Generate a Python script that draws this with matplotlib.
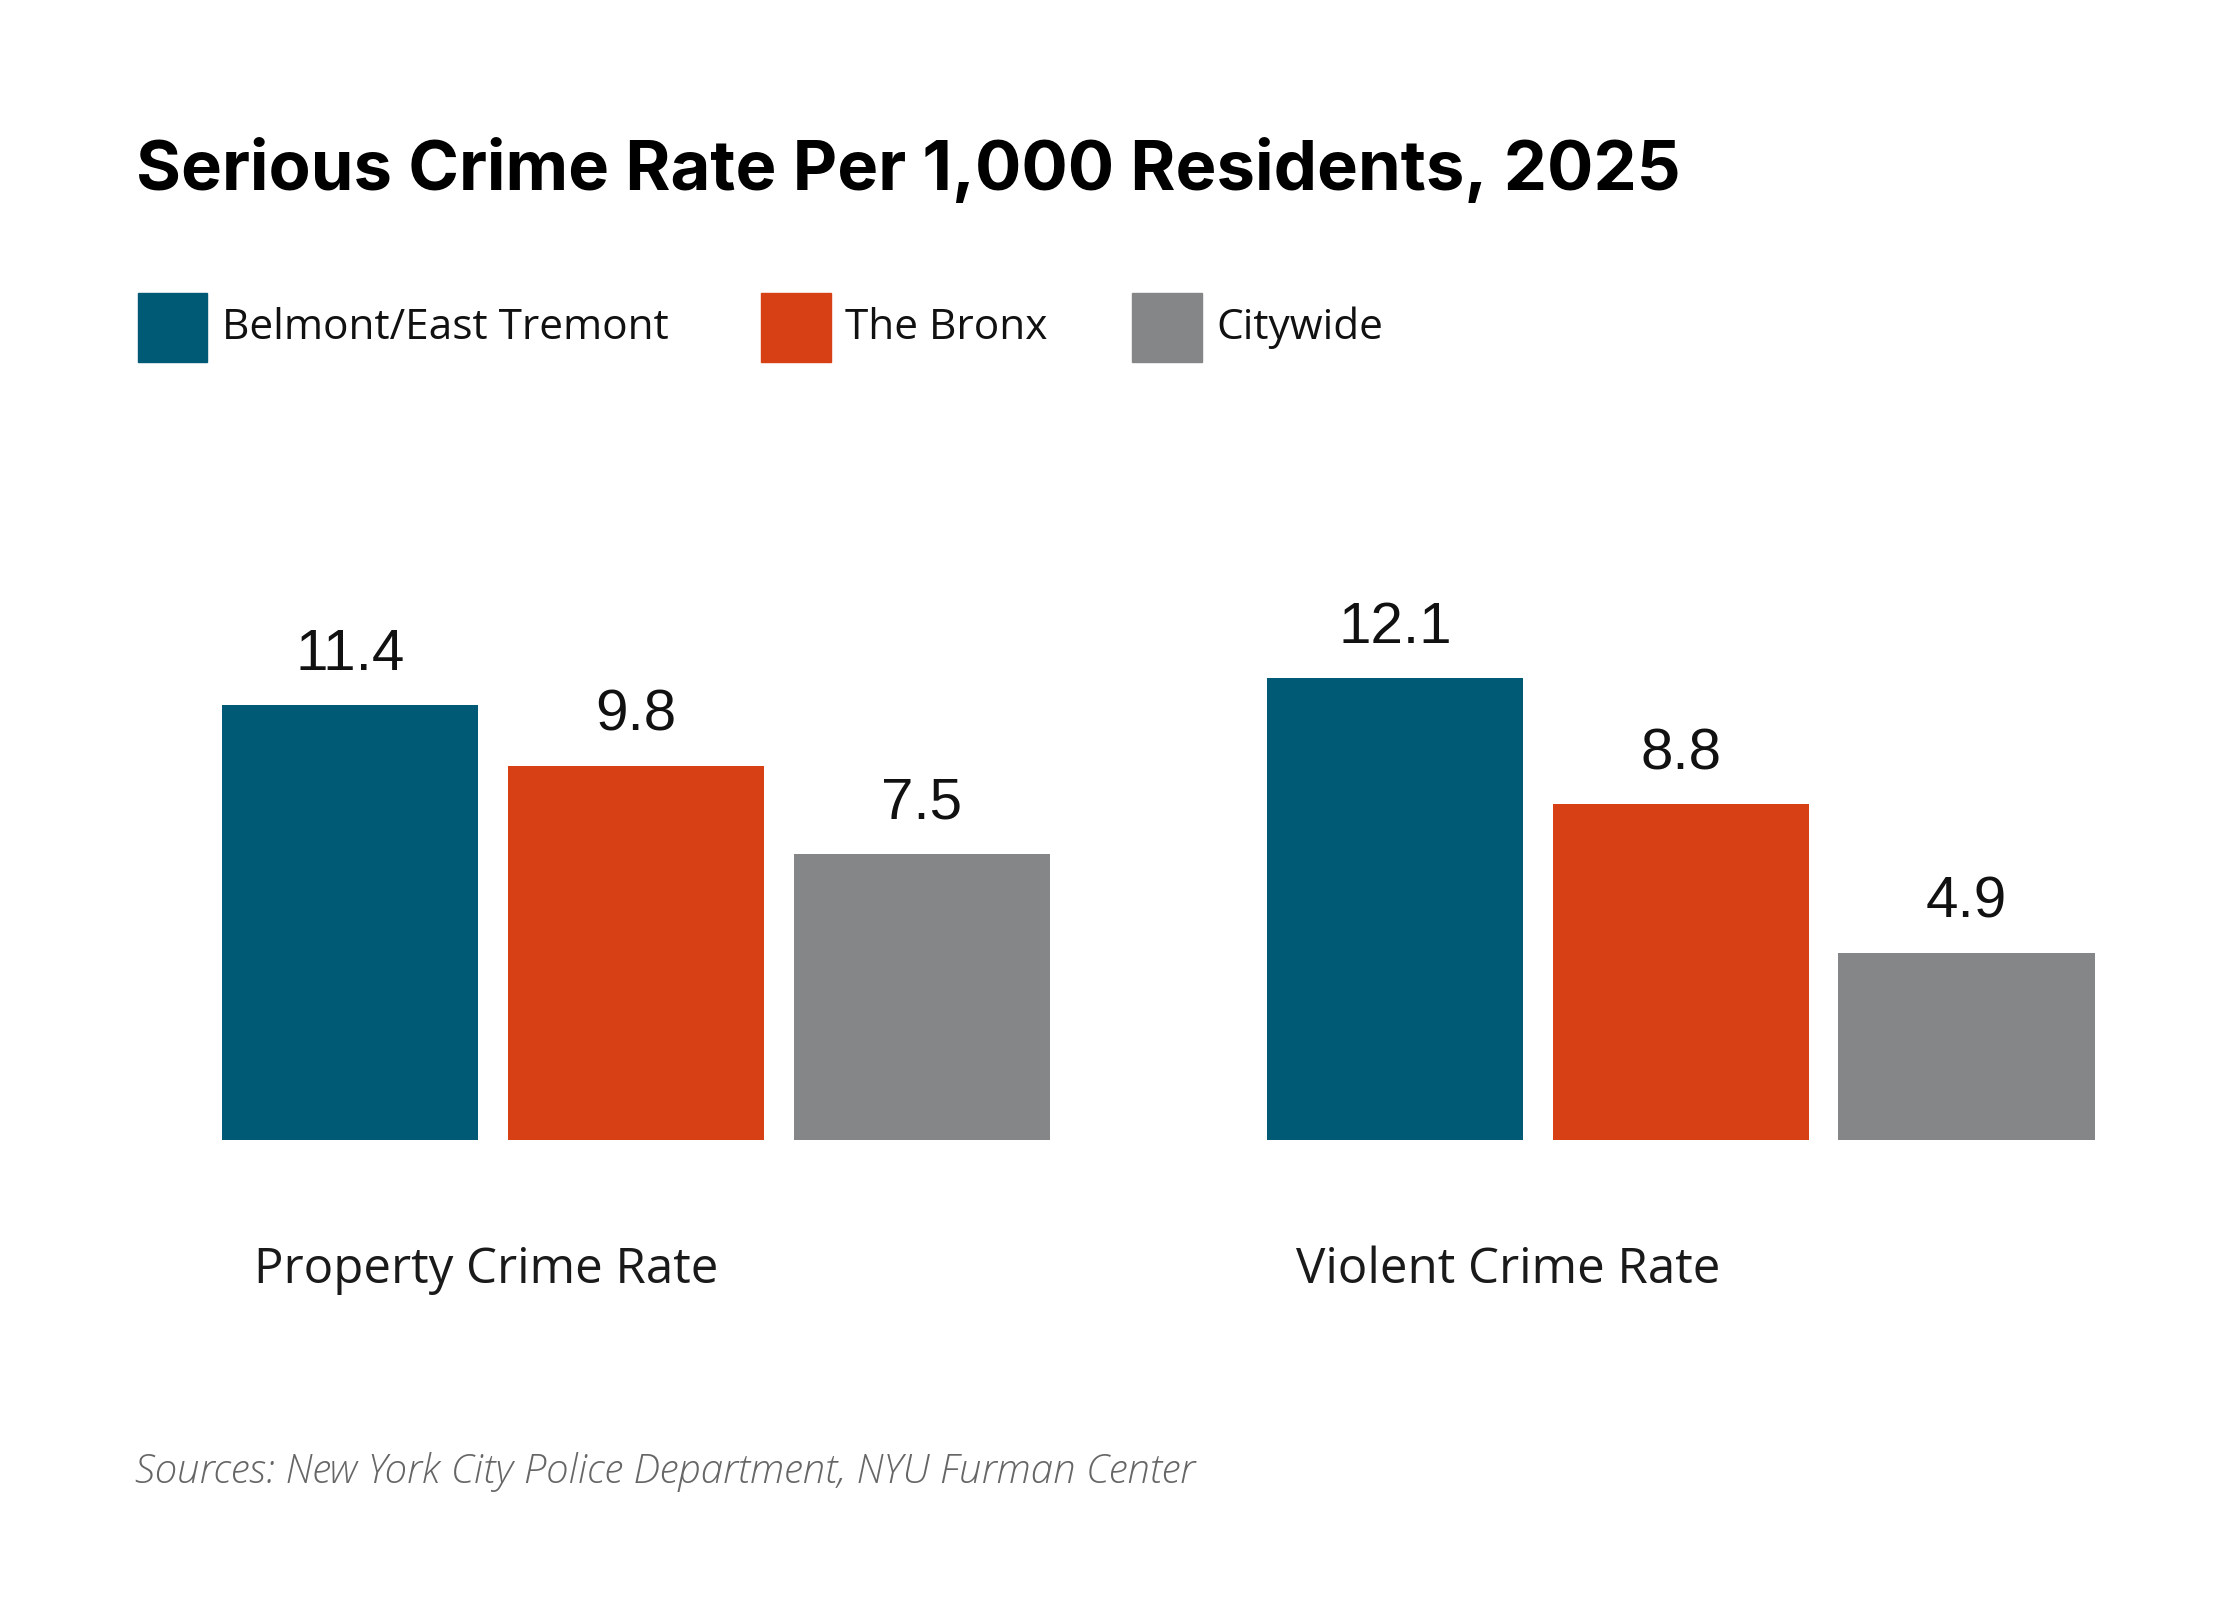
import numpy as np
import matplotlib.pyplot as plt

categories = ["Property Crime Rate", "Violent Crime Rate"]
series = ["Belmont/East Tremont", "The Bronx", "Citywide"]
belmont = [11.4, 12.1]
bronx = [9.8, 8.8]
citywide = [7.5, 4.9]
colors = ["#005a75", "#d64014", "#858688"]

W, H = 1545.0, 1103.6  # layout grid used for placement


def fx(x):
    return x / W


def fy(y):
    return 1 - y / H


fig = plt.figure(figsize=(22.4, 16), dpi=100)
fig.patch.set_facecolor("white")

# plotting area: baseline at y=786, bars from x=153 to 1445
top = 300
ax = fig.add_axes([fx(153), fy(786), fx(1445) - fx(153), fy(top) - fy(786)])
ymax = (786 - top) / 26.3
ax.set_xlim(-0.3965, 1.3965)
ax.set_ylim(0, ymax)
ax.axis("off")

ind = np.arange(len(categories))
width = 0.2455
step = 0.2737
for i, (vals, c) in enumerate(zip([belmont, bronx, citywide], colors)):
    xs = ind + (i - 1) * step
    ax.bar(xs, vals, width, color=c)
    for x, v in zip(xs, vals):
        ax.text(x, v + 0.6, f"{v:.1f}", ha="center", va="bottom",
                fontsize=42, family="Liberation Sans", color="#111111")

# category labels
for x, lab in zip([175, 894], categories):
    fig.text(fx(x), fy(876), lab, ha="left", va="center", fontsize=35.5,
             family="Open Sans", color="#1a1a1a")

# title
fig.text(fx(94), fy(118), "Serious Crime Rate Per 1,000 Residents, 2025",
         ha="left", va="center", fontsize=49.5, family="Inter",
         fontweight="bold", color="#000000")

# legend
for x, lab, c in zip([95, 525, 781], series, colors):
    fig.patches.append(plt.Rectangle((fx(x), fy(250)), fx(48), fy(202) - fy(250),
                                     transform=fig.transFigure, color=c))
    fig.text(fx(x + 58), fy(226), lab, ha="left", va="center", fontsize=30.5,
             family="Open Sans", color="#111111")

# source
fig.text(fx(93), fy(1015), "Sources: New York City Police Department, NYU Furman Center",
         ha="left", va="center", fontsize=29, family="Open Sans", style="italic",
         fontweight="light", color="#666666")

fig.savefig("out.png", dpi=100, facecolor="white")
